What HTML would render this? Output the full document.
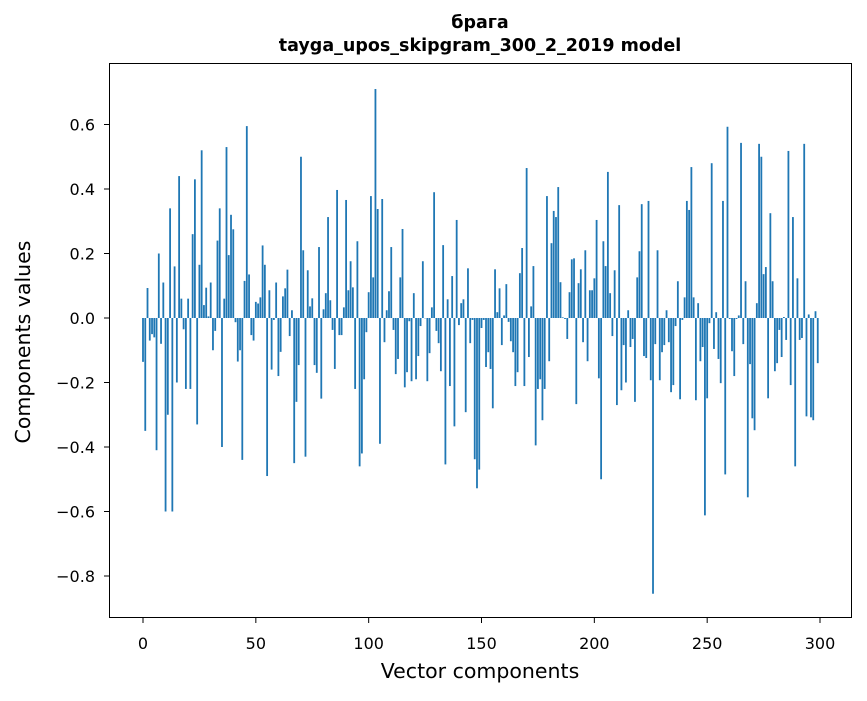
<!DOCTYPE html>
<html><head><meta charset="utf-8"><style>
body{margin:0;background:#fff;}
svg text{font-family:"DejaVu Sans","Liberation Sans",sans-serif;fill:#000;}
</style></head><body>
<svg id="s" width="867" height="696" xmlns="http://www.w3.org/2000/svg">
<rect width="867" height="696" fill="#fff"/>
<text x="480" y="28" font-size="17.5" font-weight="bold" text-anchor="middle">брага</text>
<text x="480" y="51" font-size="17.5" font-weight="bold" text-anchor="middle">tayga_upos_skipgram_300_2_2019 model</text>
<g id="bars"></g>
<rect x="109.5" y="63.5" width="742" height="554" fill="none" stroke="#000" stroke-width="1"/>
<g id="ticks"></g>
<text x="480" y="678" font-size="20.5" text-anchor="middle">Vector components</text>
<text transform="translate(30,342) rotate(-90)" font-size="20.5" text-anchor="middle">Components values</text>
</svg>
<script>
var segs=[
[0,[-0.136,-0.35,0.093,-0.07,-0.05,-0.06,-0.41,0.2,-0.08,0.11,-0.6,-0.3,0.34,-0.6,0.16,-0.2,0.44,0.06,-0.035,-0.22,0.06,-0.22,0.26,0.43,-0.33,0.165,0.52,0.04,0.094]],
[29,[0.005,0.11,-0.1,-0.04,0.24,0.34,-0.4,0.06,0.53,0.195,0.32,0.275,-0.013,-0.135,-0.1,-0.44,0.115,0.595,0.135,-0.053,-0.07,0.05,0.045,0.064,0.225,0.165,-0.49,0.086,-0.16,-0.006]],
[59,[0.11,-0.18,-0.105,0.067,0.092,0.15,-0.056,0.024,-0.45,-0.26,-0.146,0.5,0.21,-0.43,0.148,0.036,0.061,-0.146,-0.17,0.22,-0.25,0.027,0.077,0.313,0.055,-0.037,-0.158,0.397,-0.053,-0.053,0.033]],
[90,[0.366,0.086,0.176,0.095,-0.22,0.238,-0.46,-0.42,-0.19,-0.044,0.08,0.378,0.126,0.71,0.338,-0.39,0.369,-0.075,0.024,0.083,0.22,-0.037,-0.174,-0.127,0.126,0.276,-0.215,-0.168,-0.01,-0.196,0.077,-0.19]],
[122,[-0.118,-0.025,0.176,0,-0.196,-0.109,0.033,0.39,-0.04,-0.078,-0.165,0.226,-0.454,0.058,-0.211,0.13,-0.336,0.304,-0.022,0.046,0.058,-0.292,0.154,-0.078,-0.006,-0.438,-0.528,-0.47,-0.031,-0.006,-0.152]],
[153,[-0.106,-0.158,-0.28,0.151,0.018,0.092,-0.084,0.008,0.105,-0.012,-0.072,-0.106,-0.211,-0.168,0.139,0.217,-0.211,0.465,-0.121,0.036,0.161,-0.395,-0.22,-0.19,-0.317,-0.22,0.378,-0.134,0.232,0.332,0.313]],
[184,[0.406,0.111,0.002,-0.003,-0.065,0.08,0.182,0.185,-0.267,0.108,0.151,-0.075,0.21,-0.134,0.086,0.086,0.123,0.304,-0.187,-0.5,0.238,0.161,0.453,0.077,-0.056,0.148,-0.27,0.35,-0.224,-0.084,-0.2]],
[215,[0.024,-0.09,-0.065,-0.26,0.126,0.207,0.353,-0.118,-0.124,0.363,-0.193,-0.855,-0.081,0.21,-0.193,-0.106,-0.084,0.024,-0.075,-0.23,-0.208,-0.025,0.114,-0.252,-0.006,0.064,0.363,0.335,0.468,0.064,-0.255]],
[246,[0.046,-0.134,-0.09,-0.612,-0.249,-0.016,0.48,-0.096,0.018,-0.127,-0.202,0.363,-0.485,0.593,-0.003,-0.103,-0.18,-0.003,0.008,0.543,-0.081,0.114,-0.556,-0.143,-0.311,-0.348,0.046,0.54,0.5,0.136,0.158]],
[277,[-0.249,0.325,0.114,-0.165,-0.14,-0.037,-0.121,0.003,-0.068,0.518,-0.208,0.313,-0.46,0.123,-0.068,-0.062,0.54,-0.305,0.011,-0.308,-0.317,0.021,-0.14]]
];
var X=function(i){return 143+i*2.2567;}, Z=318, K=322.5;
var h='';
segs.forEach(function(s){s[1].forEach(function(v,j){var i=s[0]+j;if(i>299)return;var x=X(i)-0.9;var y=v>0?Z-v*K:Z;h+='<rect x="'+x.toFixed(2)+'" y="'+y.toFixed(2)+'" width="1.8" height="'+Math.max(Math.abs(v)*K,0.3).toFixed(2)+'" fill="#1f77b4"/>';});});
document.getElementById('bars').innerHTML=h;
var t='';
for(var k=0;k<=300;k+=50){var x=X(k);t+='<line x1="'+x+'" x2="'+x+'" y1="618" y2="623" stroke="#000"/><text x="'+x+'" y="649" font-size="16" text-anchor="middle">'+k+'</text>';}
for(var v=-0.8;v<=0.61;v+=0.2){var y=Z-v*K;var lab=(Math.abs(v)<1e-9?'0.0':(v<0?'\u2212':'')+Math.abs(v).toFixed(1));t+='<line x1="104" x2="109" y1="'+y+'" y2="'+y+'" stroke="#000"/><text x="95" y="'+(y+6)+'" font-size="16" text-anchor="end">'+lab+'</text>';}
document.getElementById('ticks').innerHTML=t;
</script>
</body></html>
